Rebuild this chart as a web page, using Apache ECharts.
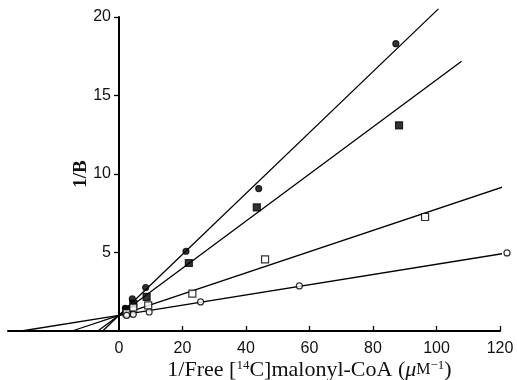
<!DOCTYPE html>
<html>
<head>
  <meta charset="utf-8">
  <title>1/B vs 1/Free malonyl-CoA</title>
  <script src="https://cdn.jsdelivr.net/npm/echarts@6/dist/echarts.min.js"></script>
  <style>
    * { margin: 0; padding: 0; }
    html, body, #main { width: 517px; height: 380px; overflow: hidden; background: #fff; }
  </style>
</head>
<body>
  <div id="main"></div>
  <script>
    // points: [1/free malonyl-CoA, 1/B]
    var filledCircles = [[2.0, 1.45], [4.2, 2.04], [8.4, 2.77], [21.1, 5.08], [44.0, 9.07], [87.2, 18.3]];
    var filledSquares = [[2.4, 1.36], [4.5, 1.74], [8.7, 2.17], [22.0, 4.33], [43.4, 7.87], [88.2, 13.1]];
    var openSquares = [[2.4, 1.14], [4.5, 1.49], [9.2, 1.63], [23.1, 2.38], [46.0, 4.56], [96.4, 7.26]];
    var openCircles = [[2.4, 0.99], [4.5, 1.06], [9.5, 1.21], [25.7, 1.85], [56.8, 2.87], [122.2, 4.97]];

    // fitted lines: slope, intercept, right end of each drawn line
    var slopes = [0.194, 0.150, 0.0676, 0.0325];
    var intercepts = [1.0, 1.0, 1.0, 1.0];
    var lineEnds = [100.6, 107.9, 122.2, 122.5];

    // the x axis runs on past 0 to the left (drawn in a second, label-free grid)
    var xAxisLeft = -35;

    var xTicks = [20, 40, 60, 80, 100, 120];
    var xLabels = [0, 20, 40, 60, 80, 100, 120];
    var yTicks = [5, 10, 15, 20];

    var pointSets = [filledCircles, filledSquares, openSquares, openCircles];
    var symbols = ['circle', 'rect', 'rect', 'circle'];
    var sizes = [6, 7, 7, 6];
    var fills = ['#000', '#000', '#fff', '#fff'];

    var series = [];
    pointSets.forEach(function (pts, i) {
      var x0 = -intercepts[i] / slopes[i];
      // part left of the y axis
      series.push({
        type: 'line',
        xAxisIndex: 1,
        yAxisIndex: 1,
        data: [[x0, 0], [0, intercepts[i]]],
        symbol: 'none',
        clip: false,
        lineStyle: { color: '#000', width: 1.3 },
        silent: true,
        z: 2
      });
      series.push({
        type: 'line',
        data: [[0, intercepts[i]], [lineEnds[i], intercepts[i] + slopes[i] * lineEnds[i]]],
        symbol: 'none',
        clip: false,
        lineStyle: { color: '#000', width: 1.3 },
        silent: true,
        z: 2
      });
      series.push({
        type: 'scatter',
        data: pts,
        symbol: symbols[i],
        symbolSize: sizes[i],
        clip: false,
        itemStyle: { color: fills[i], borderColor: '#000', borderWidth: 1.2 },
        z: 3
      });
    });

    var serif = 'Liberation Serif';
    var chart = echarts.init(document.getElementById('main'));
    chart.setOption({
      animation: false,
      grid: [
        { left: 119, right: 17, top: 17, bottom: 49, outerBoundsMode: 'none' },
        { left: 8, width: 111, top: 17, bottom: 49, outerBoundsMode: 'none' }
      ],
      xAxis: [{
        type: 'value',
        min: 0,
        max: 120,
        splitLine: { show: false },
        axisLine: { lineStyle: { color: '#000', width: 2 } },
        axisTick: { customValues: xTicks, inside: true, length: 5, lineStyle: { color: '#000', width: 1.3 } },
        axisLabel: { customValues: xLabels, color: '#111', fontSize: 16, fontFamily: 'Liberation Sans', margin: 10 },
        name: '{n|1/Free [}{s|14}{n|C]malonyl-CoA (}{i|μ}{sc|M}{s|−1}{n|)}',
        nameLocation: 'middle',
        nameGap: 28,
        nameMoveOverlap: false,
        nameTextStyle: {
          rich: {
            n: { fontFamily: serif, fontSize: 22, color: '#111' },
            i: { fontFamily: serif, fontStyle: 'italic', fontSize: 22, color: '#111' },
            sc: { fontFamily: serif, fontSize: 16, color: '#111' },
            s: { fontFamily: serif, fontSize: 13, color: '#111', verticalAlign: 'top', padding: [0, 0, 9, 0] }
          }
        }
      }, {
        type: 'value',
        gridIndex: 1,
        min: xAxisLeft,
        max: 0,
        splitLine: { show: false },
        axisLine: { lineStyle: { color: '#000', width: 2 } },
        axisTick: { show: false },
        axisLabel: { show: false }
      }],
      yAxis: [{
        type: 'value',
        min: 0,
        max: 20,
        splitLine: { show: false },
        axisLine: { lineStyle: { color: '#000', width: 2 } },
        axisTick: { customValues: yTicks, length: 5, lineStyle: { color: '#000', width: 1.3 } },
        axisLabel: { customValues: yTicks, color: '#111', fontSize: 16, fontFamily: 'Liberation Sans', margin: 8 },
        name: '1/B',
        nameLocation: 'middle',
        nameGap: 28,
        nameMoveOverlap: false,
        nameTextStyle: { fontFamily: serif, fontSize: 19, fontWeight: 'bold', color: '#111' }
      }, {
        type: 'value',
        gridIndex: 1,
        min: 0,
        max: 20,
        show: false
      }],
      series: series
    });
  </script>
</body>
</html>
